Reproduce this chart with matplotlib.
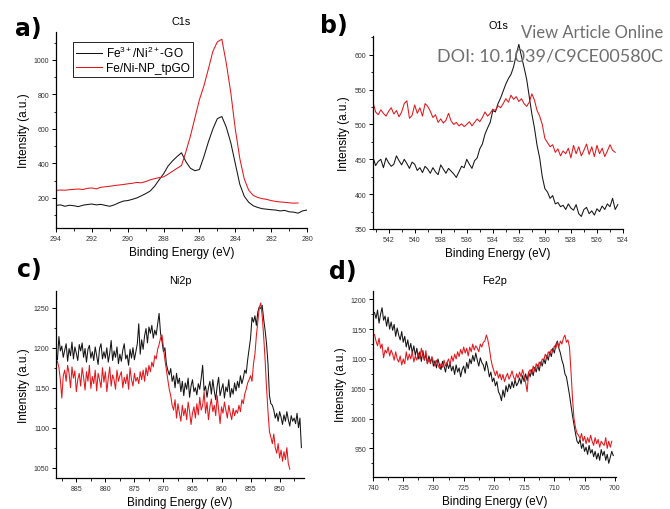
"""XPS panels (C1s, O1s, Ni2p, Fe2p): Fe3+/Ni2+-GO vs Fe/Ni-NP_tpGO."""

import matplotlib

matplotlib.use("Agg")
matplotlib.rcParams.update({
    "font.family": ["Liberation Sans", "DejaVu Sans"],
    "mathtext.fontset": "custom",
    "mathtext.rm": "Liberation Sans",
    "mathtext.it": "Liberation Sans:italic",
    "axes.linewidth": 0.9,
})

import matplotlib.pyplot as plt
import numpy as np
from matplotlib.ticker import AutoMinorLocator, MultipleLocator

BLACK = "#141414"
RED = "#e3161c"
LABEL_BLACK = r"Fe$^{\mathrm{3+}}$/Ni$^{\mathrm{2+}}$-GO"
LABEL_RED = "Fe/Ni-NP_tpGO"

# ---------------------------------------------------------------------------
# data (binding energy grids run high -> low, 0.25 eV
# steps for C1s/Ni2p/Fe2p, 0.2 eV for O1s)
# ---------------------------------------------------------------------------

c1s_range_black = (294.0, 280.0)
c1s_black = [157,
             160, 152, 158, 155, 150, 158, 162, 165, 160, 163, 157, 152,
             160, 172, 182, 185, 192, 200, 212, 225, 240, 268, 305, 340,
             385, 415, 440, 462, 410, 372, 358, 365, 440, 525, 600, 660,
             672, 610, 520, 400, 280, 210, 175, 155, 145, 138, 135, 132,
             130, 125, 128, 120, 118, 112, 125, 130]
c1s_range_red = (294.0, 280.5)
c1s_red = [244,
           246, 245, 248, 250, 252, 249, 256, 258, 253, 262, 265, 268,
           272, 275, 278, 282, 285, 290, 288, 295, 305, 312, 318, 322,
           338, 355, 372, 388, 470, 560, 665, 770, 850, 948, 1050, 1105,
           1120, 980, 810, 600, 430, 310, 245, 215, 203, 196, 192, 185,
           180, 177, 175, 172, 170, 171]

o1s_range_black = (543.2, 524.4)
o1s_black = [453, 441, 447, 450, 438, 452, 445, 440, 443, 455, 448, 442,
             450, 444, 437, 446, 443, 434, 438, 431, 440, 436, 430, 438,
             432, 428, 442, 436, 430, 437, 433, 429, 424, 432, 440, 438,
             450, 443, 437, 448, 452, 465, 472, 486, 495, 503, 520, 518,
             530, 538, 548, 558, 566, 572, 583, 600, 615, 598, 582, 565,
             540, 515, 495, 470, 452, 425, 408, 403, 394, 398, 386, 388,
             382, 384, 378, 386, 380, 377, 385, 372, 368, 378, 381, 372,
             376, 370, 379, 375, 383, 378, 386, 382, 394, 378, 385]
o1s_range_red = (543.2, 524.6)
o1s_red = [532, 518, 514, 521, 516, 512, 519, 524, 515, 520, 511, 518,
           530, 534, 509, 513, 528, 516, 524, 512, 530, 526, 519, 510,
           514, 503, 508, 502, 506, 516, 505, 500, 503, 498, 501, 497,
           500, 504, 498, 503, 508, 504, 510, 518, 512, 516, 522, 520,
           527, 524, 530, 537, 532, 542, 536, 540, 533, 537, 530, 526,
           532, 544, 535, 520, 512, 500, 480, 474, 468, 471, 460, 465,
           455, 462, 458, 466, 452, 470, 458, 468, 455, 463, 472, 457,
           468, 454, 470, 458, 466, 454, 462, 471, 463, 460]

ni2p_range_black = (888.25, 846.25)
ni2p_black = [1185, 1214, 1196, 1202, 1188, 1197, 1205, 1183, 1199, 1190,
              1207, 1186, 1201, 1193, 1184, 1204, 1196, 1206, 1188, 1199,
              1182, 1198, 1203, 1187, 1195, 1184, 1201, 1190, 1179, 1199,
              1205, 1186, 1195, 1187, 1200, 1182, 1193, 1209, 1184, 1196,
              1188, 1201, 1180, 1192, 1183, 1197, 1205, 1186, 1191, 1178,
              1198, 1187, 1200, 1185, 1195, 1205, 1230, 1192, 1210, 1198,
              1215, 1224, 1206, 1226, 1218, 1228, 1212, 1222, 1216, 1230,
              1243, 1218, 1208, 1195, 1200, 1180, 1172, 1166, 1174, 1158,
              1165, 1150, 1168, 1155, 1162, 1145, 1158, 1140, 1156, 1148,
              1162, 1138, 1152, 1160, 1145, 1150, 1141, 1155, 1148, 1162,
              1178, 1146, 1152, 1138, 1150, 1158, 1142, 1160, 1146, 1135,
              1152, 1163, 1140, 1148, 1155, 1137, 1151, 1145, 1160, 1138,
              1149, 1142, 1156, 1146, 1158, 1150, 1165, 1155, 1162, 1172,
              1168, 1185, 1198, 1212, 1238, 1232, 1240, 1228, 1245, 1251,
              1249, 1253, 1236, 1222, 1205, 1180, 1140, 1130, 1128, 1122,
              1112, 1118, 1108, 1120, 1113, 1104, 1116, 1108, 1120, 1110,
              1102, 1115, 1108, 1112, 1105, 1118, 1100, 1112, 1075]
ni2p_range_red = (888.25, 848.25)
ni2p_red = [1183, 1175, 1160, 1137, 1165, 1172, 1158, 1178, 1168, 1150,
            1176, 1162, 1171, 1145, 1160, 1168, 1152, 1175, 1163, 1147,
            1170, 1158, 1178, 1149, 1164, 1155, 1172, 1146, 1168, 1160,
            1150, 1175, 1157, 1170, 1145, 1162, 1176, 1152, 1166, 1160,
            1148, 1172, 1158, 1165, 1170, 1150, 1163, 1155, 1167, 1148,
            1175, 1160, 1152, 1168, 1158, 1163, 1155, 1170, 1160, 1172,
            1158, 1175, 1165, 1178, 1170, 1182, 1176, 1190, 1186, 1198,
            1204, 1212, 1216, 1200, 1185, 1172, 1160, 1148, 1140, 1128,
            1122, 1135, 1112, 1130, 1118, 1108, 1128, 1115, 1124, 1110,
            1132, 1120, 1104, 1118, 1126, 1112, 1130, 1116, 1138, 1122,
            1128, 1145, 1118, 1132, 1110, 1126, 1136, 1120, 1128, 1115,
            1140, 1122, 1105, 1126, 1118, 1132, 1122, 1112, 1128, 1118,
            1110, 1124, 1115, 1122, 1118, 1128, 1120, 1135, 1130, 1142,
            1148, 1156, 1160, 1165, 1158, 1180, 1192, 1215, 1232, 1250,
            1256, 1240, 1215, 1185, 1150, 1120, 1095, 1088, 1080, 1092,
            1075, 1068, 1080, 1062, 1072, 1058, 1070, 1060, 1075, 1055,
            1048]

fe2p_range_black = (739.75, 700.25)
fe2p_black = [1178, 1168, 1182, 1160, 1175, 1186, 1165, 1172, 1155, 1170,
              1150, 1162, 1148, 1158, 1138, 1152, 1140, 1132, 1146, 1128,
              1138, 1120, 1132, 1115, 1126, 1110, 1122, 1106, 1118, 1100,
              1112, 1096, 1114, 1098, 1108, 1092, 1105, 1095, 1102, 1088,
              1097, 1085, 1100, 1090, 1082, 1096, 1088, 1078, 1094, 1084,
              1092, 1080, 1088, 1074, 1090, 1078, 1085, 1070, 1082, 1088,
              1076, 1094, 1084, 1100, 1092, 1106, 1096, 1110, 1098, 1088,
              1102, 1094, 1090, 1080, 1096, 1085, 1070, 1078, 1062, 1068,
              1055, 1062, 1045, 1040, 1030, 1048, 1036, 1055, 1045, 1058,
              1050, 1062, 1052, 1065, 1055, 1060, 1068, 1058, 1072, 1062,
              1075, 1064, 1078, 1070, 1082, 1072, 1086, 1078, 1090, 1080,
              1095, 1088, 1100, 1092, 1106, 1098, 1112, 1104, 1118, 1110,
              1124, 1130, 1118, 1110, 1098, 1090, 1075, 1070, 1055, 1040,
              1022, 1005, 990, 975, 962, 958, 965, 950, 958, 945,
              952, 940, 955, 942, 948, 936, 945, 932, 942, 930,
              948, 938, 945, 930, 940, 925, 935, 945, 938]
fe2p_range_red = (739.75, 700.5)
fe2p_red = [1141, 1130, 1122, 1135, 1118, 1125, 1102, 1115, 1110, 1120,
            1105, 1115, 1108, 1098, 1112, 1100, 1095, 1105, 1090, 1100,
            1092, 1112, 1098, 1108, 1100, 1112, 1095, 1105, 1098, 1110,
            1100, 1118, 1106, 1098, 1114, 1092, 1100, 1092, 1104, 1095,
            1088, 1098, 1090, 1084, 1092, 1086, 1098, 1088, 1094, 1100,
            1090, 1105, 1096, 1108, 1100, 1112, 1104, 1116, 1108, 1120,
            1110, 1118, 1105, 1120, 1112, 1125, 1115, 1122, 1118, 1112,
            1125, 1120, 1128, 1130, 1140, 1132, 1118, 1100, 1088, 1080,
            1072, 1080, 1068, 1075, 1065, 1074, 1062, 1070, 1076, 1066,
            1072, 1080, 1070, 1064, 1075, 1068, 1078, 1070, 1082, 1072,
            1060, 1045, 1078, 1082, 1075, 1088, 1080, 1092, 1085, 1095,
            1090, 1100, 1098, 1108, 1102, 1112, 1108, 1116, 1112, 1122,
            1118, 1128, 1120, 1130, 1125, 1135, 1140, 1128, 1132, 1120,
            1080, 1035, 1000, 985, 975, 972, 966, 975, 962, 970,
            958, 968, 960, 972, 962, 955, 968, 958, 965, 952,
            962, 958, 955, 968, 950, 962, 952, 962]

# Panels: (label, title, xlim, ylim, x major, y major, black, red)
PANELS = [
    ("a)", "C1s", (294, 280), (26, 1162), 2, 200,
     (c1s_range_black, c1s_black), (c1s_range_red, c1s_red)),
    ("b)", "O1s", (543.2, 524.0), (350, 627), 2, 50,
     (o1s_range_black, o1s_black), (o1s_range_red, o1s_red)),
    ("c)", "Ni2p", (888.5, 845.8), (1037, 1271), 5, 50,
     (ni2p_range_black, ni2p_black), (ni2p_range_red, ni2p_red)),
    ("d)", "Fe2p", (740.0, 699.8), (902, 1214), 5, 50,
     (fe2p_range_black, fe2p_black), (fe2p_range_red, fe2p_red)),
]

W, H = 670, 510
# axes boxes in pixels: left, top, right, bottom
BOXES = [(56, 33, 307, 229), (373, 37, 623, 230),
         (56, 292, 304, 479), (373, 292, 616, 478)]
LETTERS = [(15, 36), (320, 33), (17, 277), (329, 279)]


def energy(rng, vals):
    return np.linspace(rng[0], rng[1], len(vals))


fig = plt.figure(figsize=(W / 100, H / 100), dpi=100)
axes = []
for (l, t, r, b), panel in zip(BOXES, PANELS):
    ax = fig.add_axes([l / W, 1 - b / H, (r - l) / W, (b - t) / H])
    axes.append(ax)
    letter, title, xlim, ylim, xmaj, ymaj, blk, red = panel
    ax.plot(energy(*blk), blk[1], color=BLACK, lw=0.75, label=LABEL_BLACK)
    ax.plot(energy(*red), red[1], color=RED, lw=0.75, label=LABEL_RED)
    ax.set_xlim(*xlim)
    ax.set_ylim(*ylim)
    ax.xaxis.set_major_locator(MultipleLocator(xmaj))
    ax.yaxis.set_major_locator(MultipleLocator(ymaj))
    ax.xaxis.set_minor_locator(AutoMinorLocator(2))
    ax.yaxis.set_minor_locator(AutoMinorLocator(2))
    for s in ("top", "right"):
        ax.spines[s].set_visible(False)
    ax.tick_params(which="major", direction="out", length=3, width=0.7,
                   labelsize=5.0, pad=1.8, labelcolor="#333333")
    ax.tick_params(which="minor", direction="out", length=1.8, width=0.6)
    ax.set_xlabel("Binding Energy (eV)", fontsize=8.5, labelpad=3)
    ax.set_ylabel("Intensity (a.u.)", fontsize=8.5, labelpad=3)
    ax.set_title(title, fontsize=7.8, pad=6)

for (x, y), panel in zip(LETTERS, PANELS):
    fig.text(x / W, 1 - y / H, panel[0], fontsize=17, fontweight="bold",
             family="DejaVu Sans", ha="left", va="baseline")

axes[0].legend(loc="upper left", bbox_to_anchor=(0.068, 0.95), fontsize=8.6,
               frameon=True, fancybox=False, edgecolor="black",
               framealpha=1.0, borderpad=0.25, handlelength=2.2,
               handletextpad=0.3, labelspacing=0.15, borderaxespad=0.0)
axes[0].get_legend().get_frame().set_linewidth(0.6)

# journal watermark
fig.text(663 / W, 1 - 33 / H, "View Article Online", ha="right",
         va="center", fontsize=12, color="#6e6e6e", family="Lato")
fig.text(663 / W, 1 - 56 / H, "DOI: 10.1039/C9CE00580C", ha="right",
         va="center", fontsize=13, color="#6e6e6e", family="Lato")

fig.savefig("out.png", dpi=100)
